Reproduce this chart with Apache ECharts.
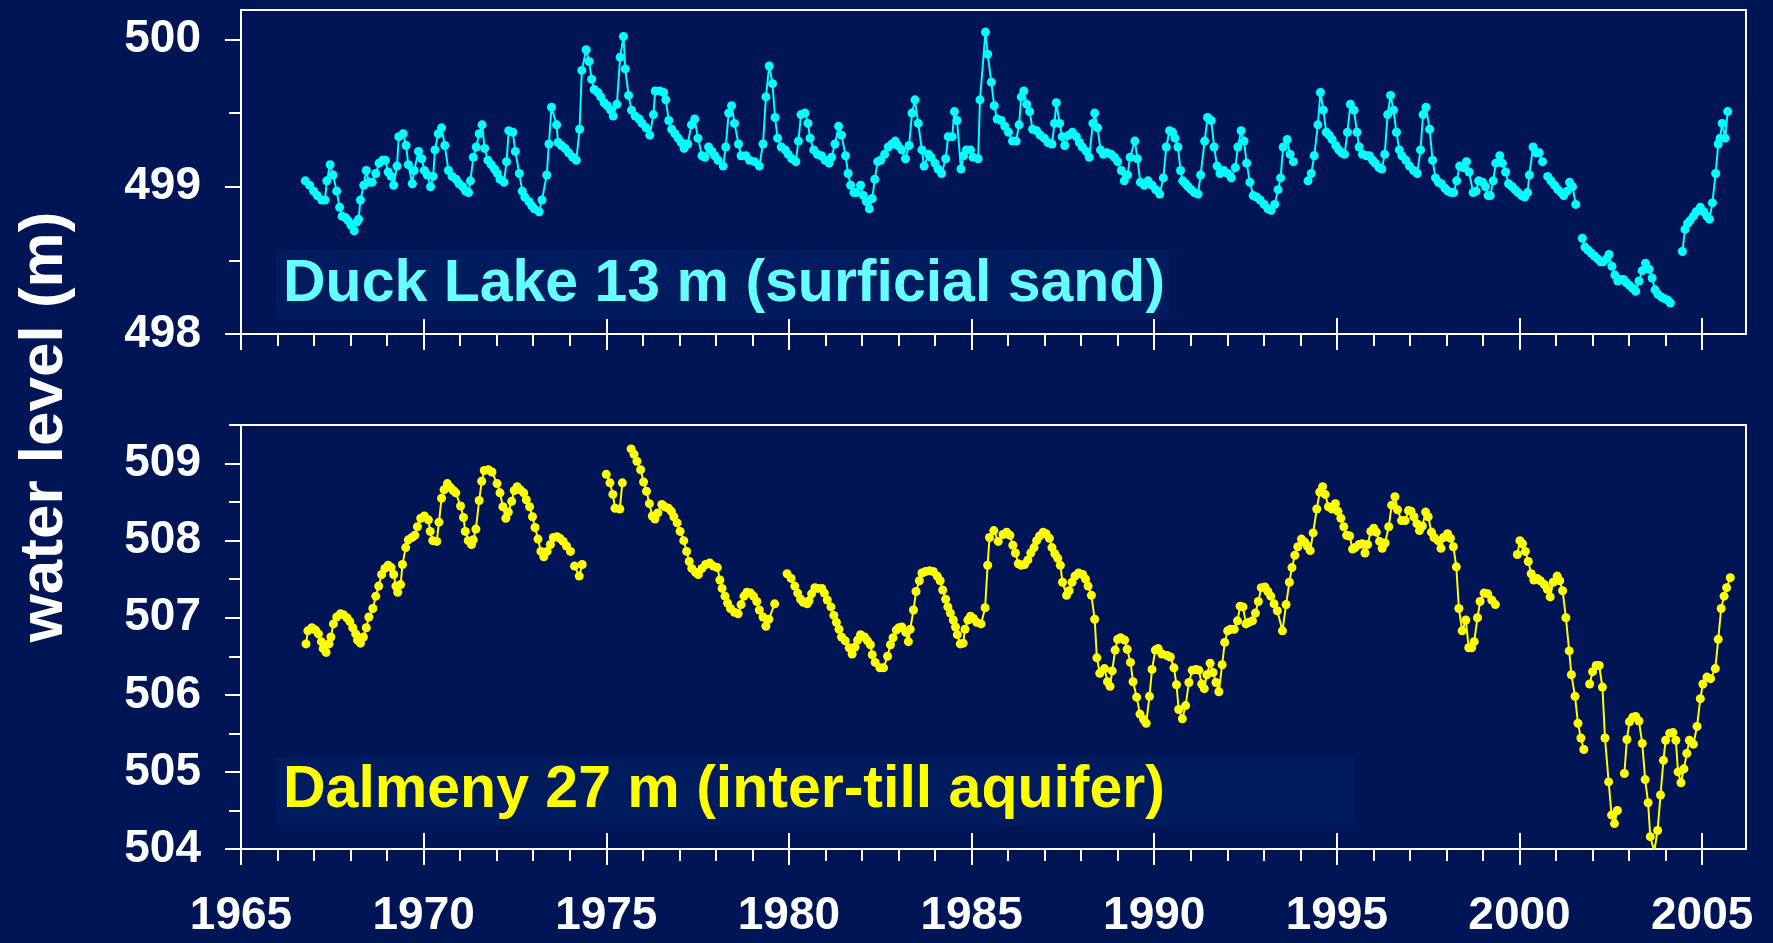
<!DOCTYPE html>
<html>
<head>
<meta charset="utf-8">
<script src="https://cdn.jsdelivr.net/npm/echarts@6.0.0/dist/echarts.min.js"></script>
<style>
  html, body { margin: 0; padding: 0; background: #001556; }
  #chart { width: 1773px; height: 943px; }
</style>
</head>
<body>
<div id="chart"></div>
<script>
const duckLake = [
  [1966.76,499.04],[1966.88,499.01],[1966.99,498.97],[1967.09,498.94],[1967.21,498.91],[1967.30,498.91],[1967.35,499.04],[1967.44,499.15],[1967.52,499.08],[1967.62,498.97],[1967.70,498.86],[1967.77,498.80],[1967.86,498.79],[1967.93,498.77],[1968.01,498.74],[1968.10,498.70],[1968.17,498.76],[1968.22,498.78],[1968.27,498.91],[1968.36,499.01],[1968.43,499.11],[1968.50,499.03],[1968.59,499.03],[1968.69,499.09],[1968.78,499.16],[1968.88,499.18],[1968.95,499.18],
  [1969.03,499.10],[1969.11,499.07],[1969.18,499.01],[1969.27,499.14],[1969.32,499.34],[1969.44,499.36],[1969.52,499.28],[1969.58,499.15],[1969.69,499.02],[1969.74,499.11],[1969.86,499.24],[1969.95,499.19],[1970.02,499.11],[1970.10,499.08],[1970.19,499.00],[1970.26,499.07],[1970.31,499.25],[1970.40,499.36],[1970.49,499.40],[1970.58,499.28],[1970.68,499.11],[1970.78,499.07],[1970.89,499.05],[1970.97,499.02],
  [1971.07,499.00],[1971.15,498.97],[1971.23,498.96],[1971.28,499.04],[1971.36,499.20],[1971.44,499.27],[1971.52,499.36],[1971.60,499.42],[1971.67,499.26],[1971.76,499.18],[1971.85,499.15],[1971.94,499.12],[1972.02,499.09],[1972.09,499.05],[1972.20,499.03],[1972.27,499.17],[1972.33,499.38],[1972.44,499.37],[1972.51,499.24],[1972.62,499.09],[1972.70,498.97],[1972.77,498.93],[1972.88,498.90],[1972.96,498.87],
  [1973.03,498.85],[1973.16,498.83],[1973.24,498.91],[1973.37,499.08],[1973.43,499.29],[1973.50,499.54],[1973.64,499.42],[1973.68,499.30],[1973.77,499.28],[1973.87,499.26],[1973.97,499.23],[1974.08,499.20],[1974.18,499.18],[1974.27,499.39],[1974.33,499.79],[1974.45,499.93],[1974.53,499.85],[1974.60,499.73],[1974.67,499.66],[1974.77,499.64],[1974.85,499.61],[1974.94,499.57],
  [1975.03,499.55],[1975.12,499.52],[1975.19,499.48],[1975.29,499.56],[1975.38,499.88],[1975.47,500.02],[1975.52,499.80],[1975.61,499.62],[1975.69,499.52],[1975.79,499.48],[1975.90,499.46],[1975.98,499.43],[1976.09,499.40],[1976.19,499.35],[1976.29,499.49],[1976.34,499.65],[1976.46,499.65],[1976.57,499.64],[1976.63,499.59],[1976.71,499.45],[1976.79,499.39],[1976.88,499.36],[1976.97,499.33],
  [1977.05,499.30],[1977.13,499.26],[1977.23,499.29],[1977.33,499.42],[1977.42,499.46],[1977.51,499.33],[1977.62,499.21],[1977.70,499.20],[1977.80,499.27],[1977.89,499.24],[1977.97,499.21],[1978.06,499.18],[1978.20,499.14],[1978.27,499.27],[1978.35,499.50],[1978.43,499.55],[1978.51,499.43],[1978.62,499.29],[1978.69,499.21],[1978.82,499.21],[1978.92,499.18],
  [1979.06,499.17],[1979.19,499.14],[1979.29,499.29],[1979.37,499.61],[1979.46,499.82],[1979.55,499.70],[1979.62,499.47],[1979.69,499.33],[1979.79,499.27],[1979.90,499.25],[1979.98,499.22],[1980.08,499.19],[1980.19,499.17],[1980.26,499.31],[1980.33,499.49],[1980.44,499.50],[1980.52,499.43],[1980.58,499.33],[1980.68,499.25],[1980.78,499.22],[1980.89,499.21],[1980.99,499.18],
  [1981.10,499.16],[1981.17,499.20],[1981.26,499.29],[1981.36,499.41],[1981.44,499.35],[1981.55,499.21],[1981.62,499.09],[1981.69,499.01],[1981.78,498.96],[1981.85,498.96],[1981.96,499.01],[1982.04,498.94],[1982.12,498.90],[1982.20,498.85],[1982.28,498.92],[1982.35,499.05],[1982.43,499.17],[1982.51,499.18],[1982.62,499.22],[1982.72,499.27],[1982.82,499.29],[1982.91,499.31],[1982.98,499.28],
  [1983.09,499.25],[1983.19,499.19],[1983.29,499.28],[1983.37,499.50],[1983.45,499.59],[1983.54,499.43],[1983.64,499.25],[1983.70,499.14],[1983.82,499.22],[1983.89,499.20],[1984.00,499.16],[1984.08,499.12],[1984.18,499.09],[1984.29,499.19],[1984.36,499.34],[1984.47,499.34],[1984.53,499.51],[1984.60,499.45],[1984.71,499.12],[1984.78,499.21],[1984.86,499.25],[1984.97,499.25],
  [1985.04,499.20],[1985.18,499.19],[1985.23,499.59],[1985.38,500.05],[1985.44,499.90],[1985.54,499.71],[1985.62,499.55],[1985.70,499.46],[1985.81,499.45],[1985.91,499.41],[1986.01,499.37],[1986.12,499.31],[1986.22,499.31],[1986.30,499.42],[1986.36,499.61],[1986.43,499.65],[1986.51,499.56],[1986.59,499.51],[1986.67,499.39],[1986.78,499.38],[1986.88,499.35],[1986.99,499.33],
  [1987.09,499.30],[1987.20,499.29],[1987.27,499.43],[1987.32,499.57],[1987.41,499.43],[1987.48,499.34],[1987.55,499.28],[1987.66,499.35],[1987.76,499.37],[1987.87,499.34],[1987.95,499.30],[1988.03,499.27],[1988.14,499.24],[1988.22,499.20],[1988.32,499.43],[1988.37,499.50],[1988.45,499.40],[1988.53,499.25],[1988.61,499.22],[1988.71,499.23],[1988.82,499.22],[1988.91,499.20],
  [1989.00,499.17],[1989.10,499.11],[1989.18,499.04],[1989.27,499.08],[1989.34,499.20],[1989.47,499.31],[1989.54,499.19],[1989.62,499.03],[1989.73,499.01],[1989.83,499.04],[1989.94,499.01],[1990.04,498.98],[1990.15,498.95],[1990.25,499.06],[1990.33,499.27],[1990.42,499.38],[1990.50,499.37],[1990.57,499.33],[1990.65,499.27],[1990.72,499.11],[1990.78,499.04],[1990.86,499.02],[1990.93,499.00],
  [1991.01,498.98],[1991.10,498.96],[1991.20,498.95],[1991.27,499.08],[1991.38,499.31],[1991.46,499.47],[1991.56,499.45],[1991.64,499.27],[1991.72,499.14],[1991.80,499.09],[1991.90,499.11],[1992.01,499.09],[1992.11,499.06],[1992.22,499.13],[1992.29,499.27],[1992.38,499.38],[1992.46,499.31],[1992.53,499.16],[1992.62,499.03],[1992.71,498.94],[1992.80,498.93],[1992.90,498.91],
  [1993.01,498.88],[1993.11,498.85],[1993.20,498.84],[1993.30,498.88],[1993.39,498.98],[1993.46,499.06],[1993.53,499.27],[1993.64,499.32],[1993.72,499.22],[1993.81,499.17],[1994.00,null],
  [1994.21,499.04],[1994.30,499.09],[1994.38,499.21],[1994.48,499.42],[1994.55,499.64],[1994.63,499.52],[1994.71,499.37],[1994.79,499.35],[1994.87,499.32],[1994.97,499.28],[1995.05,499.25],[1995.13,499.23],[1995.21,499.22],[1995.29,499.37],[1995.37,499.56],[1995.47,499.52],[1995.55,499.37],[1995.61,499.27],[1995.70,499.22],[1995.81,499.21],[1995.89,499.21],[1995.98,499.18],
  [1996.05,499.16],[1996.15,499.13],[1996.23,499.12],[1996.31,499.22],[1996.39,499.49],[1996.47,499.62],[1996.55,499.52],[1996.63,499.37],[1996.71,499.25],[1996.78,499.21],[1996.89,499.18],[1996.99,499.14],[1997.10,499.11],[1997.20,499.09],[1997.29,499.25],[1997.36,499.49],[1997.44,499.54],[1997.54,499.39],[1997.62,499.18],[1997.70,499.06],[1997.78,499.03],[1997.86,499.02],[1997.96,498.99],
  [1998.04,498.97],[1998.13,498.96],[1998.20,498.96],[1998.28,499.04],[1998.36,499.14],[1998.46,499.13],[1998.55,499.17],[1998.62,499.10],[1998.73,498.96],[1998.81,498.97],[1998.88,499.04],[1998.99,499.03],[1999.07,499.00],[1999.14,498.94],[1999.20,498.94],[1999.28,499.04],[1999.35,499.16],[1999.46,499.21],[1999.53,499.16],[1999.62,499.10],[1999.70,499.02],[1999.80,499.00],[1999.88,498.98],[1999.96,498.96],
  [2000.06,498.94],[2000.14,498.93],[2000.22,498.96],[2000.27,499.08],[2000.37,499.27],[2000.46,499.23],[2000.54,499.23],[2000.63,499.17],[2000.70,null],
  [2000.77,499.07],[2000.86,499.04],[2000.96,499.01],[2001.05,498.98],[2001.14,498.96],[2001.21,498.94],[2001.30,498.97],[2001.37,499.03],[2001.45,499.00],[2001.54,498.88],[2001.63,null],
  [2001.72,498.65],[2001.79,498.59],[2001.87,498.57],[2001.96,498.55],[2002.05,498.53],[2002.14,498.51],[2002.22,498.49],[2002.29,498.49],[2002.38,498.51],[2002.45,498.54],[2002.53,498.46],[2002.61,498.40],[2002.69,498.36],[2002.77,498.37],[2002.85,498.37],[2002.92,498.35],
  [2003.01,498.33],[2003.10,498.31],[2003.18,498.29],[2003.27,498.36],[2003.36,498.43],[2003.45,498.48],[2003.55,498.44],[2003.63,498.38],[2003.71,498.30],[2003.79,498.27],[2003.89,498.25],[2003.97,498.24],[2004.06,498.23],[2004.13,498.21],[2004.30,null],
  [2004.46,498.56],[2004.53,498.71],[2004.60,498.75],[2004.67,498.77],[2004.76,498.80],[2004.84,498.83],[2004.95,498.86],[2005.04,498.83],[2005.13,498.80],[2005.20,498.78],[2005.28,498.89],[2005.37,499.09],[2005.44,499.29],[2005.49,499.33],[2005.55,499.43],[2005.63,499.33],[2005.70,499.51]
];

const dalmeny = [
  [1966.78,506.66],[1966.83,506.83],[1966.94,506.87],[1967.04,506.84],[1967.12,506.79],[1967.20,506.69],[1967.25,506.60],[1967.33,506.55],[1967.41,506.66],[1967.46,506.75],[1967.53,506.92],[1967.62,507.01],[1967.72,507.05],[1967.80,507.04],[1967.90,507.00],[1967.98,506.95],[1968.06,506.87],[1968.14,506.79],[1968.19,506.71],[1968.27,506.67],[1968.35,506.75],[1968.43,506.87],[1968.50,507.01],[1968.61,507.12],[1968.69,507.28],[1968.77,507.41],[1968.85,507.56],[1968.94,507.64],
  [1969.03,507.68],[1969.11,507.65],[1969.18,507.56],[1969.24,507.41],[1969.29,507.33],[1969.37,507.43],[1969.42,507.69],[1969.51,507.91],[1969.58,508.01],[1969.68,508.04],[1969.76,508.07],[1969.83,508.18],[1969.92,508.29],[1970.02,508.32],[1970.13,508.27],[1970.18,508.12],[1970.25,508.00],[1970.36,507.99],[1970.42,508.24],[1970.49,508.55],[1970.56,508.66],[1970.65,508.74],[1970.73,508.69],[1970.81,508.65],[1970.88,508.62],
  [1971.01,508.45],[1971.09,508.30],[1971.14,508.12],[1971.22,508.00],[1971.31,507.95],[1971.36,508.01],[1971.43,508.15],[1971.52,508.52],[1971.59,508.77],[1971.66,508.91],[1971.77,508.92],[1971.87,508.89],[1972.01,508.74],[1972.09,508.62],[1972.17,508.44],[1972.25,508.29],[1972.32,508.37],[1972.41,508.51],[1972.48,508.65],[1972.56,508.70],[1972.64,508.66],[1972.74,508.62],[1972.81,508.53],[1972.90,508.44],[1972.98,508.31],
  [1973.05,508.17],[1973.13,508.02],[1973.21,507.86],[1973.29,507.79],[1973.38,507.86],[1973.47,507.95],[1973.55,508.04],[1973.65,508.05],[1973.73,508.03],[1973.82,507.99],[1973.91,507.93],[1974.02,507.86],[1974.08,null],
  [1974.13,507.67],[1974.26,507.54],[1974.34,507.69],[1974.60,null],
  [1975.00,508.86],[1975.10,508.75],[1975.18,508.60],[1975.24,508.42],[1975.37,508.41],[1975.44,508.75],[1975.56,null],
  [1975.68,509.19],[1975.76,509.12],[1975.84,509.03],[1975.94,508.92],[1976.02,508.76],[1976.10,508.64],[1976.18,508.48],[1976.26,508.32],[1976.33,508.28],[1976.41,508.36],[1976.52,508.47],[1976.60,508.44],[1976.70,508.42],[1976.78,508.38],[1976.85,508.31],[1976.94,508.23],
  [1977.02,508.12],[1977.12,508.00],[1977.20,507.86],[1977.27,507.73],[1977.34,507.64],[1977.44,507.59],[1977.52,507.56],[1977.62,507.64],[1977.72,507.69],[1977.83,507.71],[1977.93,507.67],[1978.04,507.65],[1978.11,507.49],[1978.17,507.38],[1978.25,507.28],[1978.32,507.19],[1978.40,507.12],[1978.51,507.07],[1978.61,507.05],[1978.69,507.17],[1978.77,507.28],[1978.85,507.33],[1978.95,507.32],
  [1979.03,507.28],[1979.12,507.21],[1979.19,507.10],[1979.29,507.01],[1979.37,506.89],[1979.45,506.98],[1979.61,507.18],[1979.78,null],
  [1979.95,507.57],[1980.06,507.51],[1980.16,507.41],[1980.24,507.32],[1980.32,507.24],[1980.39,507.20],[1980.50,507.18],[1980.55,507.22],[1980.62,507.31],[1980.71,507.39],[1980.79,507.38],[1980.90,507.38],[1980.97,507.32],
  [1981.05,507.23],[1981.15,507.14],[1981.23,507.03],[1981.30,506.94],[1981.37,506.85],[1981.44,506.75],[1981.54,506.70],[1981.65,506.61],[1981.73,506.53],[1981.81,506.62],[1981.88,506.71],[1981.96,506.78],[1982.07,506.75],[1982.15,506.70],[1982.23,506.65],[1982.28,506.52],[1982.36,506.42],[1982.49,506.35],[1982.59,506.35],[1982.70,506.50],[1982.78,506.65],[1982.85,506.74],[1982.94,506.84],
  [1983.01,506.87],[1983.09,506.88],[1983.20,506.81],[1983.27,506.69],[1983.32,506.85],[1983.41,507.10],[1983.48,507.34],[1983.57,507.48],[1983.64,507.58],[1983.74,507.60],[1983.85,507.61],[1983.95,507.60],[1984.06,507.54],[1984.14,507.48],[1984.21,507.36],[1984.29,507.24],[1984.35,507.14],[1984.42,507.06],[1984.50,506.97],[1984.56,506.88],[1984.61,506.78],[1984.69,506.66],[1984.77,506.67],[1984.82,506.85],[1984.90,506.97],[1984.97,507.02],
  [1985.05,506.99],[1985.14,506.94],[1985.26,506.92],[1985.37,507.13],[1985.44,507.68],[1985.49,508.04],[1985.61,508.13],[1985.73,507.99],[1985.86,508.08],[1985.96,508.11],[1986.05,508.07],[1986.13,507.94],[1986.20,507.84],[1986.28,507.70],[1986.36,507.68],[1986.45,507.69],[1986.54,507.75],[1986.62,507.84],[1986.71,507.91],[1986.78,508.00],[1986.86,508.06],[1986.96,508.11],
  [1987.04,508.09],[1987.13,508.03],[1987.20,507.91],[1987.28,507.83],[1987.36,507.77],[1987.43,507.68],[1987.49,507.46],[1987.60,507.29],[1987.67,507.35],[1987.75,507.46],[1987.83,507.54],[1987.93,507.58],[1988.04,507.56],[1988.12,507.50],[1988.19,507.41],[1988.28,507.29],[1988.37,506.98],[1988.43,506.48],[1988.51,506.28],[1988.64,506.34],[1988.72,506.17],[1988.79,506.11],[1988.85,506.31],[1988.93,506.58],
  [1989.00,506.72],[1989.08,506.74],[1989.19,506.71],[1989.26,506.59],[1989.35,506.42],[1989.42,506.17],[1989.52,505.97],[1989.61,505.75],[1989.71,505.68],[1989.78,505.63],[1989.87,505.98],[1989.94,506.33],[1990.03,506.58],[1990.11,506.60],[1990.21,506.53],[1990.35,506.51],[1990.44,506.49],[1990.54,506.35],[1990.61,506.13],[1990.67,505.81],[1990.77,505.69],[1990.86,505.86],[1990.95,506.16],
  [1991.04,506.32],[1991.14,506.33],[1991.22,506.32],[1991.30,506.14],[1991.37,506.08],[1991.44,506.26],[1991.53,506.41],[1991.61,506.29],[1991.69,506.16],[1991.77,506.04],[1991.86,506.39],[1991.93,506.68],[1992.01,506.83],[1992.09,506.85],[1992.19,506.85],[1992.28,506.96],[1992.35,507.15],[1992.43,507.14],[1992.51,506.92],[1992.59,506.94],[1992.69,506.96],[1992.77,507.06],[1992.85,507.21],[1992.93,507.39],
  [1993.03,507.40],[1993.11,507.34],[1993.19,507.28],[1993.28,507.18],[1993.37,507.09],[1993.51,506.83],[1993.61,507.17],[1993.70,507.46],[1993.77,507.65],[1993.85,507.81],[1993.93,507.92],[1994.03,508.02],[1994.12,507.98],[1994.19,507.93],[1994.27,507.87],[1994.35,508.10],[1994.45,508.41],[1994.53,508.63],[1994.61,508.70],[1994.68,508.60],[1994.77,508.44],[1994.87,508.41],[1994.96,508.48],
  [1995.03,508.38],[1995.11,508.29],[1995.19,508.18],[1995.27,508.07],[1995.35,508.06],[1995.43,507.89],[1995.50,507.91],[1995.61,507.95],[1995.69,507.96],[1995.77,507.84],[1995.84,507.95],[1995.93,508.12],[1996.01,508.16],[1996.08,508.11],[1996.17,507.99],[1996.24,507.90],[1996.32,507.97],[1996.42,508.18],[1996.50,508.46],[1996.59,508.57],[1996.66,508.40],[1996.77,508.26],[1996.87,508.26],[1996.96,508.39],
  [1997.03,508.38],[1997.11,508.31],[1997.19,508.22],[1997.26,508.13],[1997.34,508.19],[1997.43,508.37],[1997.50,508.31],[1997.59,508.11],[1997.66,508.04],[1997.77,508.00],[1997.85,507.90],[1997.92,508.04],[1998.03,508.09],[1998.11,508.03],[1998.19,507.92],[1998.27,507.66],[1998.34,507.12],[1998.43,506.83],[1998.53,506.97],[1998.61,506.61],[1998.69,506.61],[1998.76,506.69],[1998.85,507.00],[1998.92,507.21],
  [1999.03,507.32],[1999.13,507.31],[1999.24,507.23],[1999.34,507.17],[1999.60,null],
  [1999.94,507.82],[2000.01,508.00],[2000.08,507.96],[2000.16,507.86],[2000.24,507.73],[2000.32,507.57],[2000.39,507.49],[2000.48,507.51],[2000.57,507.48],[2000.68,507.43],[2000.76,507.37],[2000.84,507.27],[2000.92,507.46],
  [2001.03,507.54],[2001.10,507.48],[2001.18,507.35],[2001.27,507.00],[2001.36,506.57],[2001.42,506.26],[2001.52,505.98],[2001.60,505.63],[2001.68,505.44],[2001.76,505.29],[2001.84,null],
  [2001.92,506.14],[2002.00,506.30],[2002.10,506.38],[2002.18,506.38],[2002.27,506.10],[2002.34,505.44],[2002.44,504.87],[2002.52,504.44],[2002.60,504.33],[2002.68,504.50],[2002.78,null],
  [2002.87,504.98],[2002.94,505.42],[2003.01,505.65],[2003.10,505.71],[2003.18,505.72],[2003.27,505.66],[2003.36,505.37],[2003.44,504.90],[2003.52,504.60],[2003.58,504.16],[2003.69,503.97],[2003.78,504.24],[2003.86,504.70],[2003.94,505.15],
  [2004.00,505.41],[2004.11,505.50],[2004.20,505.51],[2004.28,505.41],[2004.34,505.00],[2004.42,504.86],[2004.50,505.04],[2004.58,505.24],[2004.65,505.41],[2004.76,505.36],[2004.86,505.59],[2004.95,505.95],
  [2005.02,506.14],[2005.13,506.23],[2005.23,506.21],[2005.36,506.34],[2005.44,506.72],[2005.52,507.12],[2005.60,507.28],[2005.67,507.39],[2005.77,507.52]
];

// tick labels
const yearLabels = [1965, 1970, 1975, 1980, 1985, 1990, 1995, 2000, 2005];
const yearMinor = [];
for (let y = 1966; y < 2005; y++) { if (y % 5 !== 0) yearMinor.push(y); }
const duckTicks = [498, 499, 500];
const duckMinor = [498.5, 499.5];
const dalmTicks = [504, 505, 506, 507, 508, 509];
const dalmMinor = [504.5, 505.5, 506.5, 507.5, 508.5, 509.5];

const FONT = 'Liberation Sans, Arial, Helvetica, sans-serif';
const WHITE = '#ffffff';

function xAxes(gridIndex, withLabels) {
  let base = {
    type: 'value', gridIndex: gridIndex, min: 1965, max: 2006.2, position: 'bottom',
    splitLine: { show: false }
  };
  return [
    Object.assign({}, base, {
      axisLine: { show: true, onZero: false, lineStyle: { color: WHITE, width: 2 } },
      axisTick: { show: true, length: 16, lineStyle: { color: WHITE, width: 2 }, customValues: yearLabels },
      axisLabel: {
        show: withLabels, customValues: yearLabels, margin: 44,
        formatter: function (v) { return String(v); },
        color: WHITE, fontSize: 46, fontWeight: 'bold', fontFamily: FONT
      }
    }),
    Object.assign({}, base, {
      axisLine: { show: false, onZero: false },
      axisTick: { show: true, length: 12, lineStyle: { color: WHITE, width: 2 }, customValues: yearMinor },
      axisLabel: { show: false }
    }),
    Object.assign({}, base, {
      axisLine: { show: false, onZero: false },
      axisTick: { show: true, inside: true, length: 16, lineStyle: { color: WHITE, width: 2 }, customValues: yearLabels.slice(1) },
      axisLabel: { show: false }
    })
  ];
}

function yAxes(gridIndex, min, max, major, minor) {
  let base = { type: 'value', gridIndex: gridIndex, min: min, max: max, position: 'left', splitLine: { show: false } };
  return [
    Object.assign({}, base, {
      axisLine: { show: true, onZero: false, lineStyle: { color: WHITE, width: 2 } },
      axisTick: { show: true, length: 16, lineStyle: { color: WHITE, width: 2 }, customValues: major },
      axisLabel: {
        customValues: major, margin: 40,
        formatter: function (v) { return String(v); },
        color: WHITE, fontSize: 46, fontWeight: 'bold', fontFamily: FONT
      }
    }),
    Object.assign({}, base, {
      axisLine: { show: false, onZero: false },
      axisTick: { show: true, length: 12, lineStyle: { color: WHITE, width: 2 }, customValues: minor },
      axisLabel: { show: false }
    })
  ];
}

let chart = echarts.init(document.getElementById('chart'));
let option = {
  backgroundColor: '#001556',
  animation: false,
  title: [
    {
      text: 'Duck Lake 13 m (surficial sand)',
      left: 276, top: 250,
      padding: [0, 4, 0, 7],
      backgroundColor: '#001b5e',
      textStyle: { color: '#66ffff', fontSize: 59, fontWeight: 'bold', fontFamily: FONT, lineHeight: 69 }
    },
    {
      text: 'Dalmeny 27 m (inter-till aquifer)',
      left: 276, top: 757,
      padding: [0, 190, 0, 7],
      backgroundColor: '#001b5e',
      textStyle: { color: '#ffff00', fontSize: 59, fontWeight: 'bold', fontFamily: FONT, lineHeight: 68 }
    }
  ],
  graphic: [
    {
      type: 'text', x: 45, y: 427, rotation: Math.PI / 2,
      style: {
        text: 'water level (m)', fill: WHITE, font: 'bold 62px ' + FONT,
        align: 'center', verticalAlign: 'middle', textAlign: 'center', textVerticalAlign: 'middle'
      }
    }
  ],
  grid: [
    { left: 241, top: 10, width: 1505, height: 324, show: true, borderColor: WHITE, borderWidth: 2, backgroundColor: 'transparent' },
    { left: 241, top: 425, width: 1505, height: 424, show: true, borderColor: WHITE, borderWidth: 2, backgroundColor: 'transparent' }
  ],
  xAxis: xAxes(0, false).concat(xAxes(1, true)),
  yAxis: yAxes(0, 498, 500.2, duckTicks, duckMinor).concat(yAxes(1, 504, 509.5, dalmTicks, dalmMinor)),
  series: [
    {
      name: 'Duck Lake 13 m', type: 'line', xAxisIndex: 0, yAxisIndex: 0,
      data: duckLake, connectNulls: false, showAllSymbol: true,
      symbol: 'circle', symbolSize: 9, color: '#00ffff',
      lineStyle: { color: '#00ffff', width: 2 }, clip: true
    },
    {
      name: 'Dalmeny 27 m', type: 'line', xAxisIndex: 3, yAxisIndex: 2,
      data: dalmeny, connectNulls: false, showAllSymbol: true,
      symbol: 'circle', symbolSize: 9, color: '#ffff00',
      lineStyle: { color: '#ffff00', width: 2 }, clip: true
    }
  ]
};
chart.setOption(option);
</script>
</body>
</html>
